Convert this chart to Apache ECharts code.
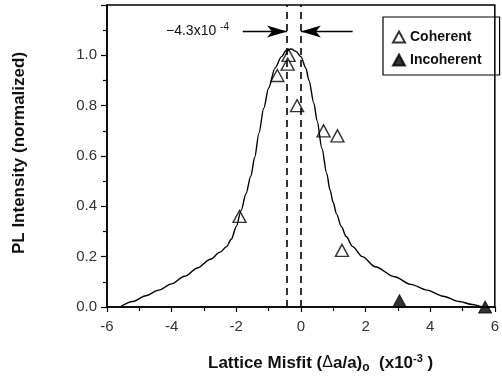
<!DOCTYPE html>
<html><head><meta charset="utf-8">
<script src="https://cdn.jsdelivr.net/npm/echarts@6/dist/echarts.min.js"></script>
<style>html,body{margin:0;padding:0;background:#fff}#c{width:502px;height:379px}</style>
</head><body><div id="c"></div>
<script>
// Data
const coherentX = [-1.9, -0.38, -0.41, -0.73, -0.12, 0.70, 1.13, 1.27];
const coherentY = [0.36, 1.00, 0.965, 0.92, 0.80, 0.70, 0.68, 0.225];
const incoherentX = [3.05, 5.7];
const incoherentY = [0.025, 0.0];
const fitX = [-5.6,-5.2,-4.8,-4.4,-4.0,-3.6,-3.2,-2.8,-2.5,-2.3,-2.15,-2.0,-1.85,-1.7,-1.55,-1.43,-1.3,-1.15,-1.0,-0.8,-0.6,-0.45,-0.3,-0.15,0.0,0.15,0.25,0.4,0.5,0.65,0.8,0.9,1.0,1.1,1.25,1.4,1.6,1.9,2.3,2.9,3.4,3.9,4.4,4.9,5.3,5.6];
const fitY = [0.0,0.022,0.045,0.067,0.092,0.122,0.155,0.19,0.218,0.24,0.27,0.32,0.384,0.45,0.52,0.594,0.69,0.79,0.87,0.95,0.995,1.02,1.025,1.015,0.995,0.95,0.90,0.81,0.74,0.63,0.53,0.465,0.415,0.37,0.32,0.28,0.24,0.20,0.16,0.12,0.09,0.067,0.043,0.022,0.01,0.0];
const dashedX = [-0.43, 0];
const arrowY = 1.095;
const leftArrow = [-1.8, -0.43];
const rightArrow = [1.6, 0];
const xTicks = {min: -6, max: 6, interval: 2};
const yTicks = {min: 0, max: 1.2, interval: 0.2};

const zip = (a, b) => a.map((v, i) => [v, b[i]]);
const chart = echarts.init(document.getElementById('c'));
const font = 'Liberation Sans, Arial, sans-serif';
chart.setOption({
  animation: false,
  backgroundColor: '#fff',
  grid: {left: 107, right: 2, top: 5, bottom: 72, show: true, borderColor: '#000', borderWidth: 1.5, backgroundColor: 'transparent'},
  xAxis: {
    type: 'value', min: xTicks.min, max: xTicks.max, interval: xTicks.interval,
    axisLine: {onZero: false, lineStyle: {color: '#000', width: 1.5}},
    axisTick: {length: 5, lineStyle: {color: '#000', width: 1.2}},
    minorTick: {show: true, splitNumber: 2, length: 4, lineStyle: {color: '#000', width: 1.2}},
    splitLine: {show: false},
    axisLabel: {color: '#333', fontSize: 15, fontFamily: font, margin: 12}
  },
  yAxis: {
    type: 'value', min: yTicks.min, max: yTicks.max, interval: yTicks.interval,
    axisLine: {onZero: false, lineStyle: {color: '#000', width: 1.5}},
    axisTick: {length: 6, lineStyle: {color: '#000', width: 1.2}},
    minorTick: {show: true, splitNumber: 2, length: 4, lineStyle: {color: '#000', width: 1.2}},
    splitLine: {show: false},
    axisLabel: {color: '#333', fontSize: 15, fontFamily: font, margin: 10,
      formatter: v => (Math.abs(v - 1.2) < 1e-6 ? '' : v.toFixed(1))}
  },
  legend: {
    left: 383, top: 17, orient: 'vertical',
    borderColor: '#000', borderWidth: 1.2, padding: [13, 18, 8, 9], itemGap: 9,
    itemWidth: 12, itemHeight: 11,
    textStyle: {color: '#111', fontSize: 14, fontWeight: 'bold', fontFamily: font},
    data: ['Coherent', 'Incoherent']
  },
  graphic: [
    {type: 'text', left: 208, top: 353, style: {
      text: '{b|Lattice Misfit (}{n|Δ}{b|a/a)}{sub|o}{b|  (x10}{sup|-3}{b| )}',
      rich: {
        b: {fontSize: 17, fontWeight: 'bold', fontFamily: font, fill: '#111'},
        n: {fontSize: 16, fontFamily: font, fill: '#111'},
        sub: {fontSize: 12, fontWeight: 'bold', fontFamily: font, fill: '#111', padding: [9, 0, 0, 0]},
        sup: {fontSize: 11, fontWeight: 'bold', fontFamily: font, fill: '#111', padding: [0, 0, 9, 0]}
      }}},
    {type: 'text', x: 19, y: 153, rotation: Math.PI / 2, style: {
      text: 'PL Intensity (normalized)', fontSize: 17, fontWeight: 'bold', fontFamily: font,
      fill: '#111', align: 'center', verticalAlign: 'middle'}},
    {type: 'text', left: 166, top: 22, style: {
      text: '{a|−4.3x10 }{s|-4}',
      rich: {
        a: {fontSize: 14, fontFamily: font, fill: '#111'},
        s: {fontSize: 10, fontFamily: font, fill: '#111', padding: [0, 0, 9, 0]}
      }}}
  ],
  series: [
    {
      name: 'fit', type: 'line', data: zip(fitX, fitY), smooth: 0.3, smoothMonotone: 'x', showSymbol: false,
      lineStyle: {color: '#000', width: 1.4}, silent: true,
      markLine: {
        silent: true, symbol: ['none', 'none'],
        lineStyle: {color: '#000', type: [7, 5], width: 1.6},
        label: {show: false},
        data: dashedX.map(x => ({xAxis: x}))
      }
    },
    {
      name: 'arrows', type: 'line', data: [], silent: true,
      markLine: {
        silent: true, symbol: ['none', 'arrow'], symbolSize: [9, 20],
        lineStyle: {color: '#000', type: 'solid', width: 1.4},
        label: {show: false},
        data: [
          [{coord: [leftArrow[0], arrowY]}, {coord: [leftArrow[1], arrowY]}],
          [{coord: [rightArrow[0], arrowY]}, {coord: [rightArrow[1], arrowY]}]
        ]
      }
    },
    {
      name: 'Coherent', type: 'scatter', data: zip(coherentX, coherentY),
      symbol: 'triangle', symbolSize: [13, 12],
      itemStyle: {color: '#fff', borderColor: '#000', borderWidth: 1.4}
    },
    {
      name: 'Incoherent', type: 'scatter', data: zip(incoherentX, incoherentY),
      symbol: 'triangle', symbolSize: [13, 12],
      itemStyle: {color: '#000', borderColor: '#000', borderWidth: 1}
    }
  ]
});
</script></body></html>
